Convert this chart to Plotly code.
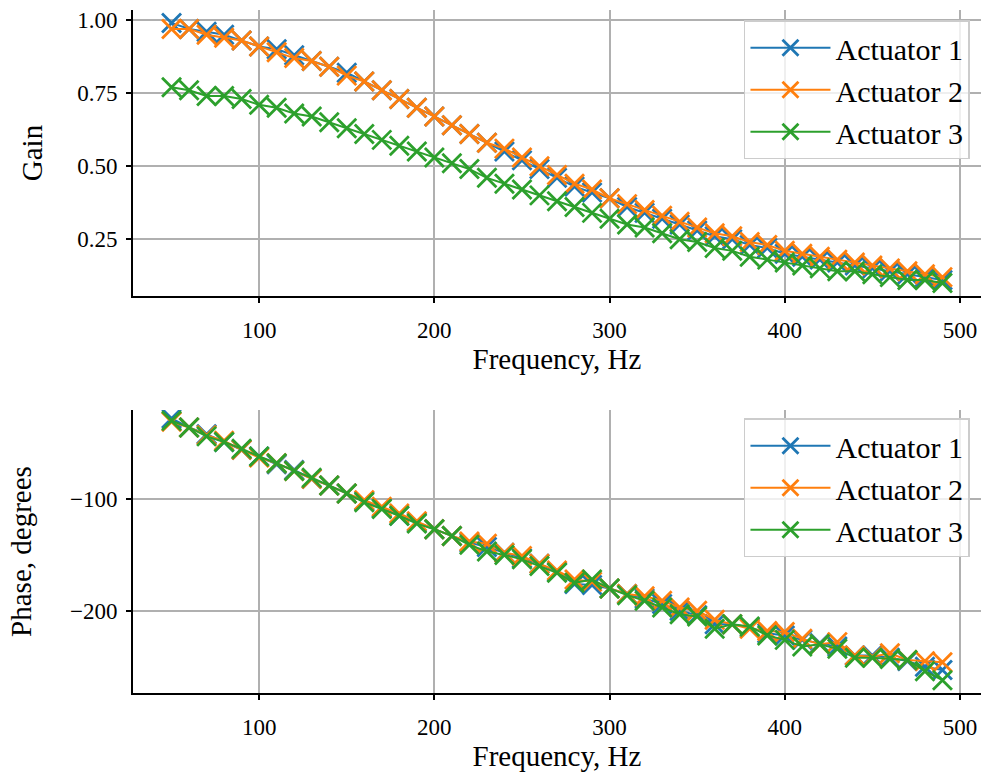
import plotly.graph_objects as go
from plotly.subplots import make_subplots

freq = [50, 60, 70, 80, 90, 100, 110, 120, 130, 140, 150, 160, 170, 180, 190,
        200, 210, 220, 230, 240, 250, 260, 270, 280, 290, 300, 310, 320, 330, 340,
        350, 360, 370, 380, 390, 400, 410, 420, 430, 440, 450, 460, 470, 480, 490]

gain_1 = [0.99, 0.97, 0.96, 0.95, 0.93, 0.91, 0.90, 0.88, 0.86, 0.84, 0.82, 0.79, 0.76, 0.73, 0.70,
          0.67, 0.64, 0.61, 0.58, 0.55, 0.52, 0.49, 0.46, 0.43, 0.41, 0.39, 0.36, 0.34, 0.32, 0.30,
          0.28, 0.26, 0.25, 0.23, 0.22, 0.20, 0.19, 0.18, 0.17, 0.16, 0.15, 0.14, 0.13, 0.12, 0.11]
gain_2 = [0.97, 0.97, 0.95, 0.94, 0.93, 0.91, 0.89, 0.87, 0.86, 0.84, 0.81, 0.79, 0.76, 0.73, 0.70,
          0.67, 0.64, 0.61, 0.58, 0.56, 0.53, 0.50, 0.47, 0.44, 0.42, 0.39, 0.37, 0.35, 0.33, 0.31,
          0.29, 0.27, 0.26, 0.24, 0.23, 0.21, 0.20, 0.19, 0.18, 0.17, 0.16, 0.15, 0.14, 0.13, 0.12]
gain_3 = [0.77, 0.76, 0.74, 0.74, 0.73, 0.71, 0.70, 0.68, 0.67, 0.65, 0.63, 0.61, 0.59, 0.57, 0.55,
          0.53, 0.51, 0.49, 0.46, 0.44, 0.42, 0.40, 0.38, 0.36, 0.34, 0.32, 0.30, 0.29, 0.27, 0.25,
          0.24, 0.22, 0.21, 0.19, 0.18, 0.17, 0.16, 0.15, 0.14, 0.14, 0.13, 0.12, 0.11, 0.11, 0.10]

phase_1 = [-28, -36, -42, -49, -56, -62, -69, -74, -82, -88, -95, -102, -108, -115, -121,
           -127, -133, -139, -143, -148, -153, -158, -165, -176, -177, -180, -185, -189, -194, -200,
           -204, -212, -212, -215, -220, -222, -226, -229, -232, -240, -240, -242, -245, -250, -253]
phase_2 = [-31, -36, -43, -48, -56, -63, -68, -75, -82, -88, -95, -101, -107, -113, -120,
           -127, -133, -138, -140, -148, -151, -158, -164, -172, -174, -180, -185, -187, -191, -197,
           -200, -208, -212, -216, -218, -219, -225, -230, -228, -240, -241, -238, -244, -245, -246]
phase_3 = [-30, -36, -44, -49, -55, -62, -68, -75, -81, -88, -95, -103, -109, -115, -122,
           -127, -133, -141, -147, -150, -154, -160, -166, -175, -172, -180, -186, -191, -197, -203,
           -205, -216, -212, -214, -222, -226, -232, -230, -234, -242, -242, -243, -244, -254, -262]

names = ["Actuator 1", "Actuator 2", "Actuator 3"]
colors = ["#1f77b4", "#ff7f0e", "#2ca02c"]

fig = make_subplots(rows=2, cols=1, vertical_spacing=0.1)

for name, c, g in zip(names, colors, [gain_1, gain_2, gain_3]):
    fig.add_trace(go.Scatter(x=freq, y=g, name=name, mode="lines+markers",
                             line=dict(color=c, width=2),
                             marker=dict(symbol="x-thin", size=19, line=dict(color=c, width=2.8)),
                             legend="legend"), row=1, col=1)
for name, c, p in zip(names, colors, [phase_1, phase_2, phase_3]):
    fig.add_trace(go.Scatter(x=freq, y=p, name=name, mode="lines+markers",
                             line=dict(color=c, width=2),
                             marker=dict(symbol="x-thin", size=19, line=dict(color=c, width=2.8)),
                             legend="legend2"), row=2, col=1)

font_family = "Liberation Serif"
title_font = dict(size=29, color="black", family=font_family)
axis_common = dict(showgrid=True, gridcolor="#b0b0b0", gridwidth=1.5,
                   showline=True, linecolor="black", linewidth=2,
                   ticks="outside", ticklen=5, tickwidth=1.5, tickcolor="black",
                   zeroline=False, tickfont=dict(size=23, color="black", family=font_family),
                   mirror=False, automargin=False)

fig.update_xaxes(**axis_common, range=[28, 512], tickvals=[100, 200, 300, 400, 500],
                 ticklabelstandoff=7,
                 title=dict(text="Frequency, Hz", font=title_font, standoff=7))
fig.update_yaxes(**axis_common, ticklabelstandoff=4)
fig.update_yaxes(row=1, col=1, range=[0.0555, 1.0345], tickvals=[0.25, 0.5, 0.75, 1.0],
                 tickformat=".2f",
                 title=dict(text="Gain", font=title_font, standoff=26))
fig.update_yaxes(row=2, col=1, range=[-273.5, -20.5], tickvals=[-100, -200],
                 title=dict(text="Phase, degrees", font=title_font, standoff=30))

legend_common = dict(xanchor="right", yanchor="top",
                     bgcolor="rgba(255,255,255,0.8)", bordercolor="#cccccc", borderwidth=1.5,
                     font=dict(size=30, family=font_family, color="black"), itemwidth=80,
                     tracegroupgap=2)

fig.update_layout(
    width=990, height=781,
    margin=dict(l=133, r=9, t=8, b=88),
    plot_bgcolor="white", paper_bgcolor="white",
    font=dict(family=font_family, color="black"),
    xaxis=dict(domain=[0, 1]), xaxis2=dict(domain=[0, 1]),
    yaxis=dict(domain=[0.5796, 0.997]), yaxis2=dict(domain=[0, 0.413]),
    legend=dict(x=0.987, y=0.982, **legend_common),
    legend2=dict(x=0.987, y=0.401, **legend_common),
)

fig.write_html("out.html", config={"displayModeBar": False},
               post_script="document.body.style.margin='0';")
